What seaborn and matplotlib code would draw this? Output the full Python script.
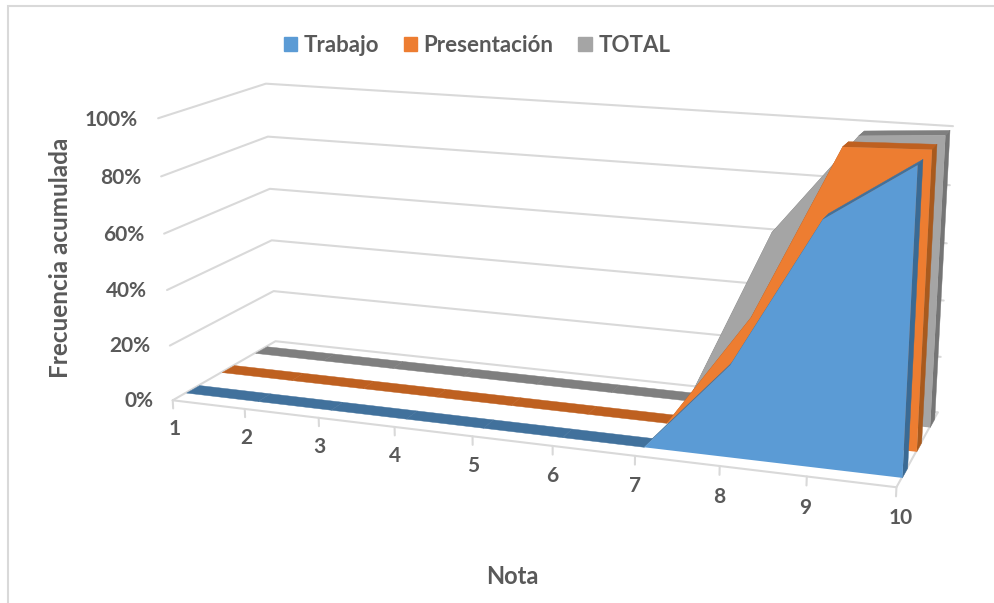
import numpy as np
import matplotlib
matplotlib.use('Agg')
import matplotlib.pyplot as plt
from matplotlib.patches import Patch, Rectangle
from mpl_toolkits.mplot3d import proj3d
from mpl_toolkits.mplot3d.art3d import Poly3DCollection
import seaborn as sns

# Data
notas = [1, 2, 3, 4, 5, 6, 7, 8, 9, 10]
trabajo = [0, 0, 0, 0, 0, 0, 0, 31, 81, 100]
presentacion = [0, 0, 0, 0, 0, 0, 0, 40, 99, 100]
total = [0, 0, 0, 0, 0, 0, 0, 63, 98, 100]
series_names = ['Trabajo', 'Presentación', 'TOTAL']
pct_ticks = [0, 20, 40, 60, 80, 100]

sns.set_theme(style='white')
plt.rcParams['font.family'] = ['Lato', 'DejaVu Sans']

colors = ['#5B9BD5', '#ED7D31', '#A5A5A5']
top_colors = ['#41719C', '#BE6020', '#7F7F7F']
side_colors = ['#3A6A94', '#A85A1E', '#757575']
text_color = '#595959'
grid_color = '#D9D9D9'

fig = plt.figure(figsize=(9.95, 6.03), dpi=100)
ax = fig.add_axes([0, 0, 1, 1], projection='3d', computed_zorder=False)
ax.set_axis_off()
ax.set_xlim(1, 10)
ax.set_ylim(0, 3)
ax.set_zlim(0, 100)
ax.set_xticks([])
ax.set_yticks([])
ax.set_zticks([])
ax.apply_aspect()

# camera: fitted to where the box corners sit in the reference
world = [(1, 0, 0), (10, 0, 0), (1, 3, 0), (10, 3, 0), (1, 0, 100), (1, 3, 100),
         (10, 3, 100), (1, 0, 80), (1, 3, 80), (4, 0, 0), (7, 0, 0)]
pixels = [(173, 400), (896, 487), (275, 341), (938, 412), (158, 118), (266, 84),
          (953, 126), (161, 176), (268, 137), (395, 427), (635, 457)]
view2d = ax.transData.inverted().transform([(px, 603 - py) for px, py in pixels])
rows = []
for (X, Y, Z), (u, v) in zip(world, view2d):
    rows.append([X, Y, Z, 1, 0, 0, 0, 0, -u * X, -u * Y, -u * Z, -u])
    rows.append([0, 0, 0, 0, X, Y, Z, 1, -v * X, -v * Y, -v * Z, -v])
p = np.linalg.svd(np.array(rows))[2][-1].reshape(3, 4)
depth_row = [0.0, 0.01, 0.0, 0.5]
camera = np.vstack([p[0], p[1], np.array(depth_row) * np.abs(p[2]).max(), p[2]])
ax.get_proj = lambda: camera


def poly(verts, color, z, lw=0.3):
    pc = Poly3DCollection([verts], facecolors=color, edgecolors=color, linewidths=lw, zorder=z)
    ax.add_collection3d(pc)
    pc.set_clip_on(False)


def line(xs, ys, zs, z=1):
    ax.plot(xs, ys, zs, color=grid_color, lw=1.5, zorder=z, clip_on=False)


def label(x, y, z, s, ha):
    # tick labels sit on the 2D view, at the projected position
    u, v, _ = proj3d.proj_transform(x, y, z, camera)
    ax.text2D(u, v, s, transform=ax.transData, ha=ha, va='center', fontsize=15,
              fontweight='bold', color=text_color, zorder=50)


# walls and floor
for t in pct_ticks:
    line([1, 1, 10], [0, 3, 3], [t, t, t])
line([1, 10, 10], [0, 0, 3], [0, 0, 0])
for n in notas:
    line([n, n], [0, 0], [0, -3])

# areas, back to front
all_values = [trabajo, presentacion, total]
slot_start = 0.36
slot_end = 0.72
for i in [2, 1, 0]:
    vals = all_values[i]
    d0 = i + slot_start
    d1 = i + slot_end
    base = 10 + (2 - i) * 10
    for j in range(len(notas) - 1):
        poly([(notas[j], d0, vals[j]), (notas[j + 1], d0, vals[j + 1]),
              (notas[j + 1], d1, vals[j + 1]), (notas[j], d1, vals[j])], top_colors[i], base)
    poly([(10, d0, 0), (10, d1, 0), (10, d1, vals[-1]), (10, d0, vals[-1])], side_colors[i], base + 1)
    front = [(n, d0, v) for n, v in zip(notas, vals)] + [(10, d0, 0), (1, d0, 0)]
    poly(front, colors[i], base + 2, lw=0)

# tick labels
for n in notas:
    label(n + (0.06 if n == 10 else 0), 0, -10.5 if n < 10 else -10, str(n), 'center')
for t in pct_ticks:
    label(0.72, 0, t - 1, f'{t}%', 'right')

fig.text(512 / 995, 1 - 577 / 603, 'Nota', ha='center', va='center', fontsize=17,
         fontweight='bold', color=text_color)
fig.text(61 / 995, 1 - 258 / 603, 'Frecuencia acumulada', rotation=90, ha='center', va='center',
         fontsize=17.5, fontweight='bold', color=text_color)

handles = [Patch(color=c, label=s) for c, s in zip(colors, series_names)]
fig.legend(handles=handles, loc='center', bbox_to_anchor=(477 / 995, 1 - 45 / 603), ncol=3,
           frameon=False, prop={'size': 16, 'weight': 'bold'}, labelcolor=text_color,
           handlelength=0.6, handleheight=0.6, handletextpad=0.3, columnspacing=1.1)

# chart frame
fig.add_artist(Rectangle((8 / 995, -0.02), 2000 / 995, 1 - 6 / 603 + 0.02, transform=fig.transFigure,
                         fill=False, edgecolor='#D9D9D9', lw=1.5))

fig.savefig('out.png', dpi=100)
